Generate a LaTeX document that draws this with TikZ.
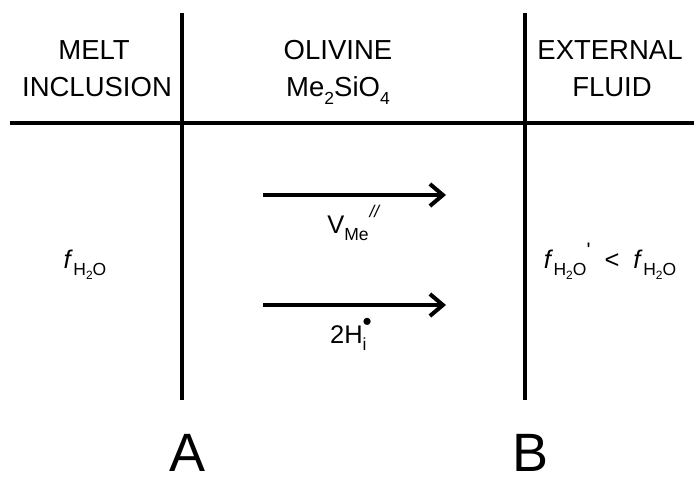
\documentclass[tikz,border=0pt]{standalone}
\usepackage{fontspec}
\setmainfont{Liberation Sans}
\usetikzlibrary{arrows.meta}
\newcommand\lowtxt[1]{\raisebox{-0.3em}{\fontsize{17.5}{17.5}\selectfont #1}}
\newcommand\hightxt[1]{\raisebox{0.62em}{\fontsize{17}{17}\selectfont #1}}
\newcommand\tinylow[1]{\raisebox{-0.22em}{\fontsize{12}{12}\selectfont #1}}
\newcommand\fh{\textit{f}\kern0.5pt\lowtxt{H\tinylow{2}O}}
\tikzset{
  rule/.style={line width=4pt, line cap=butt},
  flux/.style={line width=4pt, -{Straight Barb[length=13pt,width=22pt,line width=4pt]}},
  hdr/.style={font=\fontsize{27.5}{30}\selectfont, align=center, inner sep=0pt, anchor=base},
  lbl/.style={font=\fontsize{25.5}{30}\selectfont, inner sep=0pt, anchor=base},
  big/.style={font=\fontsize{54}{60}\selectfont, inner sep=0pt, anchor=base}
}
\begin{document}
\begin{tikzpicture}[x=1pt,y=-1pt]
\useasboundingbox (0,0) rectangle (694,483);
\coordinate (v1t) at (182,13);
\coordinate (v1b) at (182,400);
\coordinate (v2t) at (525,13);
\coordinate (v2b) at (525,400);
\coordinate (hl) at (10,123);
\coordinate (hr) at (694,123);
\draw[rule] (v1t) -- (v1b);
\draw[rule] (v2t) -- (v2b);
\draw[rule] (hl) -- (hr);

\node[hdr] (melt) at (94,59) {MELT};
\node[hdr] (incl) at (97,96) {INCLUSION};
\node[hdr] (oliv) at (338,59) {OLIVINE};
\node[hdr] (form) at (338,96) {Me\lowtxt{2}SiO\lowtxt{4}};
\node[hdr] (ext) at (610,59) {EXTERNAL};
\node[hdr] (fluid) at (612,96) {FLUID};

\coordinate (a1s) at (263,195);
\coordinate (a1e) at (446,195);
\coordinate (a2s) at (263,305);
\coordinate (a2e) at (446,305);
\draw[flux] (a1s) -- (a1e);
\draw[flux] (a2s) -- (a2e);

\node[lbl] (vme) at (354,233) {V\lowtxt{Me}\hightxt{\kern1pt\textit{//}}};
\node[lbl] (hi) at (351,343) {2H\rlap{\lowtxt{i}}\raisebox{0.5em}{\fontsize{26}{26}\selectfont\textbullet}};

\node[lbl] (fl) at (85,268) {\fh};
\node[lbl] (fr) at (610,268) {\fh\raisebox{0.42em}{\fontsize{21}{21}\selectfont\textquotesingle}\hspace{0.55em}<\hspace{0.55em}\fh};

\node[big] (A) at (188,471) {A};
\node[big] (B) at (531,471) {B};
\end{tikzpicture}
\end{document}
